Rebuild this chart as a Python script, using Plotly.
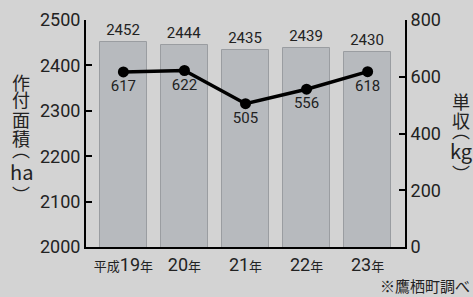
import plotly.graph_objects as go

years = ["平成19年", "20年", "21年", "22年", "23年"]
area_ha = [2452, 2444, 2435, 2439, 2430]
yield_kg = [617, 622, 505, 556, 618]
left_ticks = [2000, 2100, 2200, 2300, 2400, 2500]
right_ticks = [0, 200, 400, 600, 800]

FONT = "Roboto, sans-serif"
JP = "Noto Sans CJK JP, sans-serif"

def fmt_year(s):
    out = ""
    for ch in s:
        if ch.isdigit():
            out += ch
        else:
            out += "<span style='font-size:13px;font-family:Noto Sans CJK JP'>" + ch + "</span>"
    return out

tick_text = [fmt_year(s) for s in years]

W, H = 473, 297
ML, MR, MT, MB = 86, 68, 20, 50
PW, PH = W - ML - MR, H - MT - MB

def px_x(x):
    return (x - ML) / PW

def px_y(y):
    return (H - MB - y) / PH

fig = go.Figure()
fig.add_trace(go.Bar(
    x=list(range(len(years))), y=area_ha,
    marker=dict(color="#b7babe", line=dict(color="#9a9da1", width=1)),
    width=0.77,
    text=[str(v) for v in area_ha], textposition="outside",
    textfont=dict(size=15, color="#222", family=FONT),
    cliponaxis=False, yaxis="y",
))
fig.add_trace(go.Scatter(
    x=list(range(len(years))), y=yield_kg, yaxis="y2",
    mode="lines+markers+text",
    line=dict(color="#000", width=3.5),
    marker=dict(color="#000", size=11),
    text=[str(v) for v in yield_kg], textposition="bottom center",
    textfont=dict(size=15, color="#222", family=FONT),
    cliponaxis=False,
))

left_title = [("作", 81.5, 18), ("付", 99.5, 18), ("面", 118.5, 18), ("積", 137.5, 18),
              ("︵", 149, 18), ("ha", 171, 20), ("︶", 194, 18)]
right_title = [("単", 100.5, 18), ("収", 120, 18), ("︵", 130, 18), ("kg", 150, 20), ("︶", 173, 18)]

annotations = []
for t, y, s in left_title:
    annotations.append(dict(text=t, xref="paper", yref="paper", x=px_x(21), y=px_y(y),
                            xanchor="center", yanchor="middle", showarrow=False,
                            font=dict(size=s, color="#222", family=JP)))
for t, y, s in right_title:
    annotations.append(dict(text=t, xref="paper", yref="paper", x=px_x(461), y=px_y(y),
                            xanchor="center", yanchor="middle", showarrow=False,
                            font=dict(size=s, color="#222", family=JP)))
annotations.append(dict(text="※鷹栖町調べ", xref="paper", yref="paper",
                        x=px_x(472), y=px_y(285), xanchor="right", yanchor="middle",
                        showarrow=False, font=dict(size=15, color="#222", family=JP)))

fig.update_layout(
    width=W, height=H,
    margin=dict(l=ML, r=MR, t=MT, b=MB),
    paper_bgcolor="#d3d3d3", plot_bgcolor="#d3d3d3",
    showlegend=False, bargap=0,
    xaxis=dict(
        range=[-0.612, 4.612], tickmode="array",
        tickvals=list(range(len(years))), ticktext=tick_text,
        showline=True, linecolor="#000", linewidth=2,
        ticks="", showgrid=False, zeroline=False, automargin=False,
        tickfont=dict(size=18, color="#222", family=FONT),
    ),
    yaxis=dict(
        range=[2000, 2500], tickvals=left_ticks,
        showline=True, linecolor="#000", linewidth=2,
        ticks="inside", ticklen=6, tickwidth=2, tickcolor="#000",
        showgrid=False, zeroline=False, automargin=False,
        tickfont=dict(size=18, color="#222", family=FONT),
    ),
    yaxis2=dict(
        range=[0, 800], tickvals=right_ticks, overlaying="y", side="right",
        anchor="x", automargin=False,
        showline=True, linecolor="#000", linewidth=2,
        ticks="inside", ticklen=6, tickwidth=2, tickcolor="#000",
        showgrid=False, zeroline=False,
        tickfont=dict(size=18, color="#222", family=FONT),
    ),
    annotations=annotations,
)

fig.write_html("out.html", config={"displayModeBar": False},
               post_script="document.body.style.margin='0';document.body.style.overflow='hidden';")
